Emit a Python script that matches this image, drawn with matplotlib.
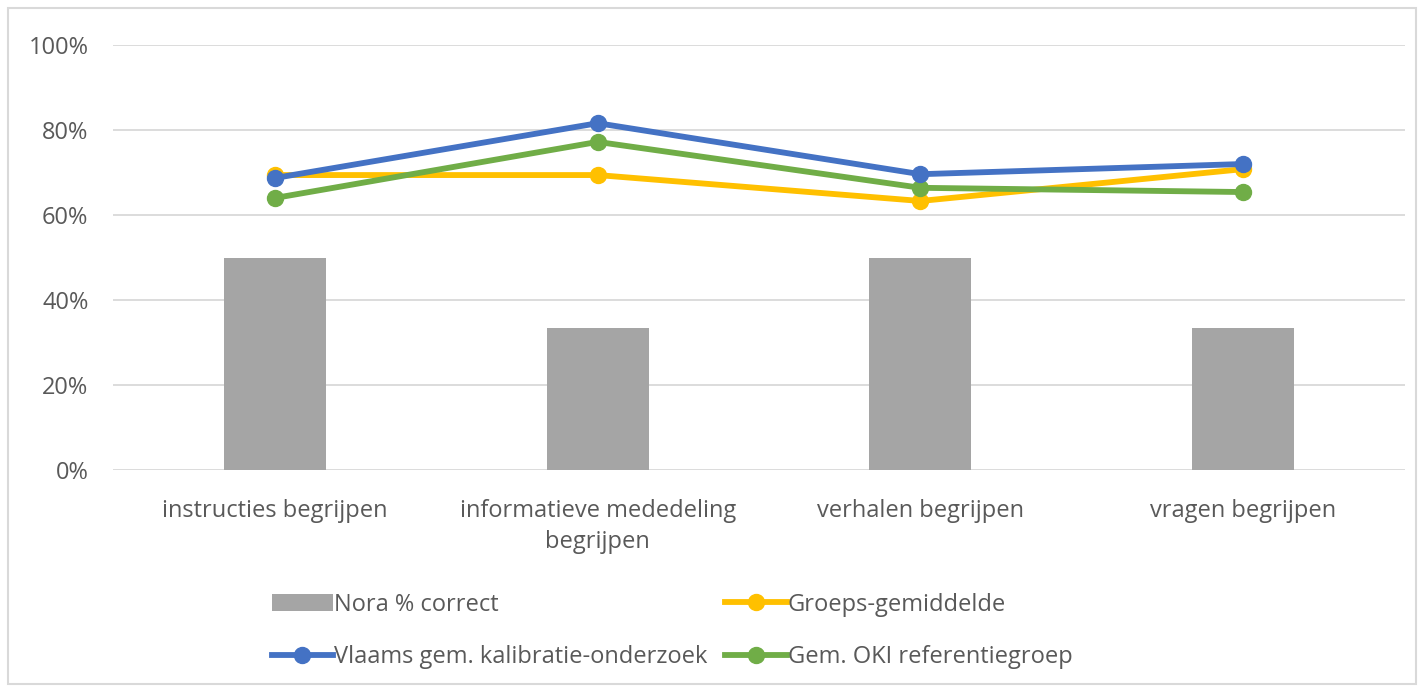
import numpy as np
import matplotlib.pyplot as plt
from matplotlib.patches import Rectangle
from matplotlib.ticker import PercentFormatter

plt.rcParams['font.family'] = ['Open Sans', 'DejaVu Sans']

categories = ['instructies begrijpen', 'informatieve mededeling\nbegrijpen',
              'verhalen begrijpen', 'vragen begrijpen']
nora = [50.0, 33.3, 50.0, 33.3]
groep = [69.4, 69.4, 63.3, 70.8]
vlaams = [68.7, 81.6, 69.6, 72.0]
oki = [64.0, 77.2, 66.4, 65.4]

txt = '#595959'
fs = 17
fig = plt.figure(figsize=(14.22, 6.90), dpi=100)
ax = fig.add_axes([0.0798, 0.3188, 0.908, 0.616])

x = np.arange(len(categories))
b = ax.bar(x, nora, width=0.316, color='#a5a5a5', zorder=2, label='Nora % correct')
l_g, = ax.plot(x, groep, color='#ffc000', lw=4.2, marker='o', ms=11.5, zorder=3,
               label='Groeps-gemiddelde')
l_v, = ax.plot(x, vlaams, color='#4472c4', lw=4.2, marker='o', ms=11.5, zorder=5,
               label='Vlaams gem. kalibratie-onderzoek')
l_o, = ax.plot(x, oki, color='#70ad47', lw=4.2, marker='o', ms=11.5, zorder=4,
               label='Gem. OKI referentiegroep')

ax.set_xlim(-0.5, len(categories) - 0.5)
ax.set_ylim(0, 100)
ax.set_yticks(np.arange(0, 101, 20))
ax.yaxis.set_major_formatter(PercentFormatter(decimals=0))
ax.set_xticks(x)
ax.set_xticklabels(categories, fontsize=fs, color=txt, linespacing=1.4)
ax.tick_params(axis='y', labelsize=fs, labelcolor=txt, length=0, pad=18)
ax.tick_params(axis='x', length=0, pad=21)
ax.grid(axis='y', color='#d9d9d9', lw=1.3, zorder=0)
for s in ax.spines.values():
    s.set_visible(False)

fig.legend([b, l_v, l_g, l_o],
           ['Nora % correct', 'Vlaams gem. kalibratie-onderzoek',
            'Groeps-gemiddelde', 'Gem. OKI referentiegroep'],
           ncol=2, loc='upper left', bbox_to_anchor=(0.191, 0.141),
           frameon=False, fontsize=fs, labelcolor=txt, handlelength=2.6,
           handletextpad=0.05, columnspacing=0.75, labelspacing=1.2,
           borderaxespad=0, borderpad=0)

fig.patches.append(Rectangle((8 / 1422, 6 / 690), 1408 / 1422, 676 / 690,
                             transform=fig.transFigure, fill=False,
                             edgecolor='#d9d9d9', lw=1.5))

fig.savefig('out.png', dpi=100)
